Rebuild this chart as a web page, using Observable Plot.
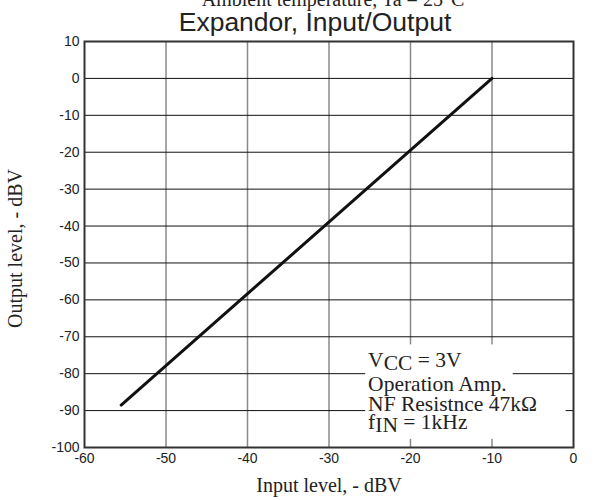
<!DOCTYPE html>
<html>
<head>
<meta charset="utf-8">
<script src="https://cdn.jsdelivr.net/npm/d3@7"></script>
<script src="https://cdn.jsdelivr.net/npm/@observablehq/plot@0.6"></script>
<style>
  html, body { margin: 0; padding: 0; background: #fff; }
  #chart svg { display: block; }
</style>
</head>
<body>
<div id="chart"></div>
<script>
// Data
const inputLevel  = [-55.5, -10];      // dBV
const outputLevel = [-88.5, 0];        // dBV

const xTicks = [-60, -50, -40, -30, -20, -10, 0];
const yTicks = [10, 0, -10, -20, -30, -40, -50, -60, -70, -80, -90, -100];

const titleText = "Expandor, Input/Output";
const topNote = "Ambient temperature, Ta = 25°C";
const xLabel = "Input level, - dBV";
const yLabel = "Output level, - dBV";

const noteLines = ["VCC = 3V", "Operation Amp.", "NF Resistnce 47kΩ", "fIN = 1kHz"];
const noteY = [-78.3, -84.6, -90.2, -95.1];
const noteX = -25.2;

// white background behind the note (two blocks)
const noteBgX1 = [-25.5, -25.5];
const noteBgX2 = [-7.4, -0.9];
const noteBgY1 = [-72.2, -84.9];
const noteBgY2 = [-84.9, -97.8];

const curve = inputLevel.map((x, i) => ({x, y: outputLevel[i]}));
const bg = noteBgX1.map((x1, i) => ({x1, x2: noteBgX2[i], y1: noteBgY1[i], y2: noteBgY2[i]}));
const notes = noteLines.map((t, i) => ({t, x: noteX, y: noteY[i]}));

const serif = "'Liberation Serif', 'Times New Roman', serif";
const sans = "'Liberation Sans', Arial, sans-serif";

const chart = Plot.plot({
  width: 598,
  height: 500,
  marginLeft: 84,
  marginRight: 25,
  marginTop: 41,
  marginBottom: 53,
  style: { fontFamily: sans, fontSize: "14px", color: "#222", background: "#fff" },
  x: { domain: [-60, 0], axis: null },
  y: { domain: [-100, 10], axis: null },
  marks: [
    Plot.ruleX(xTicks.filter(d => d > -60 && d < 0), { stroke: "#8a8a8a", strokeWidth: 1.5 }),
    Plot.ruleY(yTicks.filter(d => d > -100 && d < 10), { stroke: "#111", strokeWidth: 1 }),
    Plot.rect(bg, { x1: "x1", x2: "x2", y1: "y1", y2: "y2", fill: "white" }),
    Plot.frame({ stroke: "#333", strokeWidth: 2 }),
    // tick labels
    Plot.text(xTicks, { x: d => d, frameAnchor: "bottom", dy: 6, lineAnchor: "top", text: d => String(d), fontFamily: sans, fontSize: 14, fill: "#222" }),
    Plot.text(yTicks, { y: d => d, frameAnchor: "left", dx: -5, textAnchor: "end", text: d => String(d), fontFamily: sans, fontSize: 14, fill: "#222" }),
    Plot.line(curve, { x: "x", y: "y", stroke: "#111", strokeWidth: 3 }),
    Plot.text(notes, { x: "x", y: "y", text: "t", textAnchor: "start", lineAnchor: "bottom", fontFamily: serif, fontSize: 21.5, fill: "#222" }),
    Plot.text([titleText], { frameAnchor: "top", dx: -14, dy: -11, lineAnchor: "bottom", fontFamily: sans, fontSize: 26.5, fill: "#222" }),
    Plot.text([topNote], { frameAnchor: "top", dx: 4, dy: -36, lineAnchor: "bottom", fontFamily: serif, fontSize: 20, fill: "#222" }),
    Plot.text([xLabel], { frameAnchor: "bottom", dy: 44, lineAnchor: "bottom", fontFamily: serif, fontSize: 20, fill: "#222" }),
    Plot.text([yLabel], { frameAnchor: "left", dx: -63, dy: 4, rotate: -90, textAnchor: "middle", lineAnchor: "bottom", fontFamily: serif, fontSize: 20, fill: "#222" })
  ]
});

// subscripts for VCC and fIN
d3.select(chart).selectAll("text").each(function() {
  const el = d3.select(this);
  const txt = this.textContent;
  if (txt === "VCC = 3V") {
    el.text(null);
    el.append("tspan").text("V");
    el.append("tspan").attr("dy", 3).text("CC");
    el.append("tspan").attr("dy", -3).text(" = 3V");
  } else if (txt === "fIN = 1kHz") {
    el.text(null);
    el.append("tspan").text("f");
    el.append("tspan").attr("dy", 3).text("IN");
    el.append("tspan").attr("dy", -3).text(" = 1kHz");
  }
});

document.getElementById("chart").append(chart);
</script>
</body>
</html>
